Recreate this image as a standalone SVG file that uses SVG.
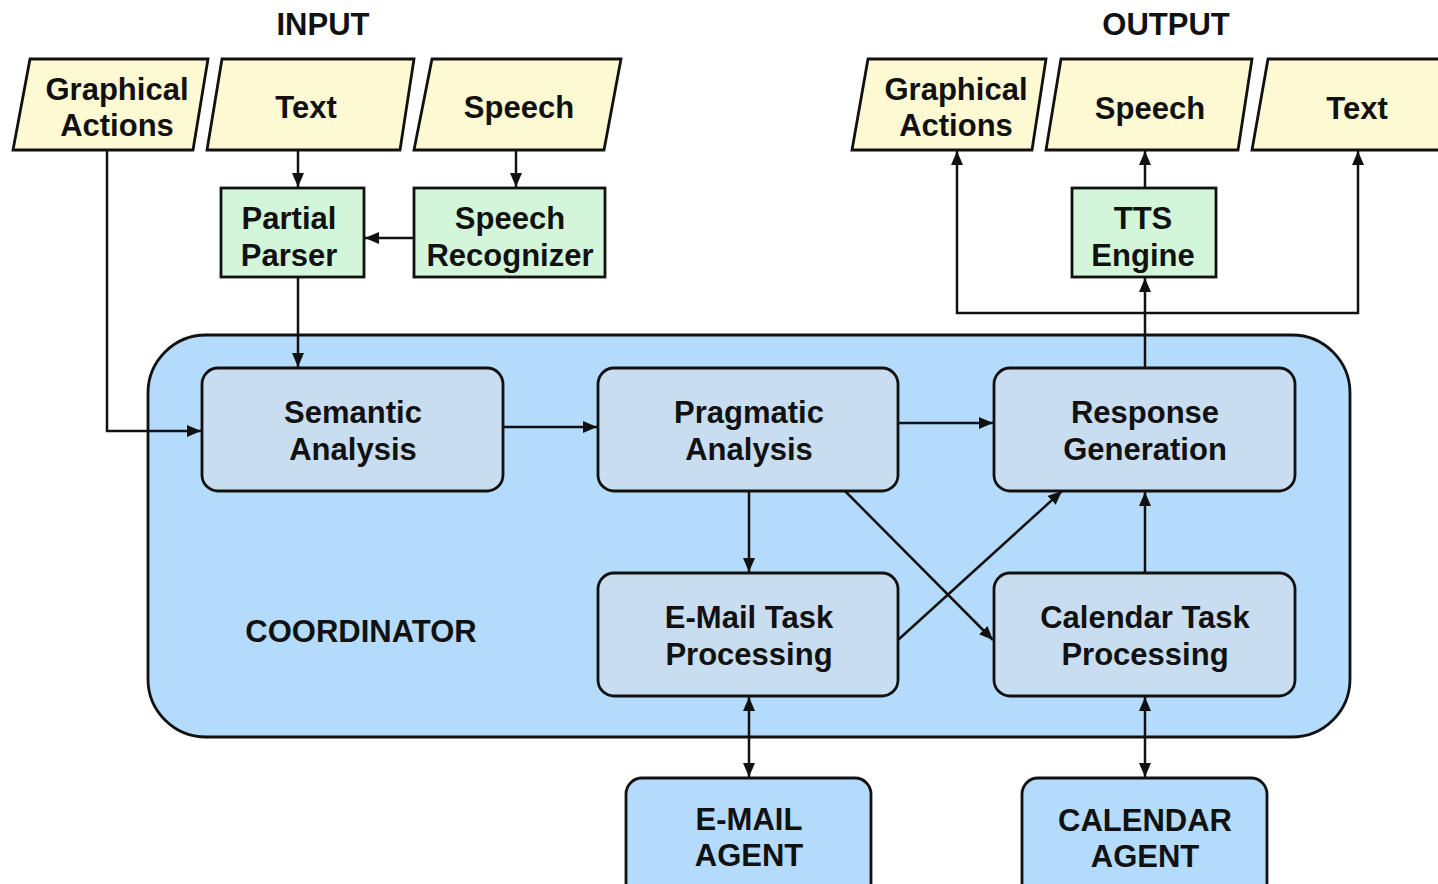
<svg xmlns="http://www.w3.org/2000/svg" width="1438" height="884" viewBox="0 0 1438 884">
<style>
text{font-family:"Liberation Sans",Arial,sans-serif;font-weight:bold;font-size:31px;fill:#111;text-anchor:middle}
.para{fill:#fdf9d3;stroke:#111;stroke-width:2.8}
.green{fill:#d3f6da;stroke:#111;stroke-width:2.8}
.coord{fill:#b4dbfb;stroke:#111;stroke-width:2.8}
.inner{fill:#c8ddef;stroke:#111;stroke-width:2.8}
.agent{fill:#b4dbfb;stroke:#111;stroke-width:2.8}
.c{fill:none;stroke:#111;stroke-width:2.5}
</style>
<defs>
<marker id="ah" viewBox="0 0 14 12" refX="14" refY="6" markerWidth="14" markerHeight="12" markerUnits="userSpaceOnUse" orient="auto-start-reverse">
<path d="M0,0 L14,6 L0,12 Z" fill="#111"/>
</marker>
</defs>
<rect width="1438" height="884" fill="#fff"/>
<text x="323" y="35" font-size="30">INPUT</text>
<text x="1166" y="35" font-size="30">OUTPUT</text>

<g id="coordinator">
<rect class="coord" x="148" y="335" width="1202" height="402" rx="58"/>
<text x="361" y="642">COORDINATOR</text>
</g>

<g id="in-graphical"><polygon class="para" points="30,59 208,59 193,150 13,150"/><text x="117" y="100">Graphical</text><text x="117" y="136">Actions</text></g>
<g id="in-text"><polygon class="para" points="222,59 414,59 400,150 207,150"/><text x="306" y="118">Text</text></g>
<g id="in-speech"><polygon class="para" points="432,59 621,59 604,150 414,150"/><text x="519" y="118">Speech</text></g>

<g id="out-graphical"><polygon class="para" points="868,59 1046,59 1032,150 852,150"/><text x="956" y="100">Graphical</text><text x="956" y="136">Actions</text></g>
<g id="out-speech"><polygon class="para" points="1061,59 1252,59 1238,150 1046,150"/><text x="1150" y="119">Speech</text></g>
<g id="out-text"><polygon class="para" points="1268,59 1460,59 1445,150 1252,150"/><text x="1357" y="119">Text</text></g>

<g id="partial-parser"><rect class="green" x="221" y="188" width="143" height="89"/><text x="289" y="229">Partial</text><text x="289" y="266">Parser</text></g>
<g id="speech-recognizer"><rect class="green" x="414" y="188" width="191" height="89"/><text x="510" y="229">Speech</text><text x="510" y="266">Recognizer</text></g>
<g id="tts-engine"><rect class="green" x="1072" y="188" width="144" height="89"/><text x="1143" y="229">TTS</text><text x="1143" y="266">Engine</text></g>

<g id="semantic"><rect class="inner" x="202" y="368" width="301" height="123" rx="16"/><text x="353" y="423">Semantic</text><text x="353" y="460">Analysis</text></g>
<g id="pragmatic"><rect class="inner" x="598" y="368" width="300" height="123" rx="16"/><text x="749" y="423">Pragmatic</text><text x="749" y="460">Analysis</text></g>
<g id="response"><rect class="inner" x="994" y="368" width="301" height="123" rx="16"/><text x="1145" y="423">Response</text><text x="1145" y="460">Generation</text></g>
<g id="email-task"><rect class="inner" x="598" y="573" width="300" height="123" rx="16"/><text x="749" y="628">E-Mail Task</text><text x="749" y="665">Processing</text></g>
<g id="calendar-task"><rect class="inner" x="994" y="573" width="301" height="123" rx="16"/><text x="1145" y="628">Calendar Task</text><text x="1145" y="665">Processing</text></g>

<g id="email-agent"><rect class="agent" x="626" y="778" width="245" height="130" rx="16"/><text x="749" y="830">E-MAIL</text><text x="749" y="866">AGENT</text></g>
<g id="calendar-agent"><rect class="agent" x="1022" y="778" width="245" height="130" rx="16"/><text x="1145" y="831">CALENDAR</text><text x="1145" y="867">AGENT</text></g>

<g id="connectors">
<path class="c" d="M298,150 V187" marker-end="url(#ah)"/>
<path class="c" d="M516,150 V187" marker-end="url(#ah)"/>
<path class="c" d="M414,238 H365" marker-end="url(#ah)"/>
<path class="c" d="M298,277 V367" marker-end="url(#ah)"/>
<path class="c" d="M107,150 V431 H201" marker-end="url(#ah)"/>
<path class="c" d="M503,427 H597" marker-end="url(#ah)"/>
<path class="c" d="M898,423 H993" marker-end="url(#ah)"/>
<path class="c" d="M749,491 V572" marker-end="url(#ah)"/>
<path class="c" d="M845,491 L993,640" marker-end="url(#ah)"/>
<path class="c" d="M898,640 L1062,491" marker-end="url(#ah)"/>
<path class="c" d="M1145,573 V492" marker-end="url(#ah)"/>
<path class="c" d="M1145,368 V278" marker-end="url(#ah)"/>
<path class="c" d="M1145,188 V151" marker-end="url(#ah)"/>
<path class="c" d="M957,151 V313 H1358 V151" marker-start="url(#ah)" marker-end="url(#ah)"/>
<path class="c" d="M749,697 V777" marker-start="url(#ah)" marker-end="url(#ah)"/>
<path class="c" d="M1145,697 V777" marker-start="url(#ah)" marker-end="url(#ah)"/>
</g>
</svg>
